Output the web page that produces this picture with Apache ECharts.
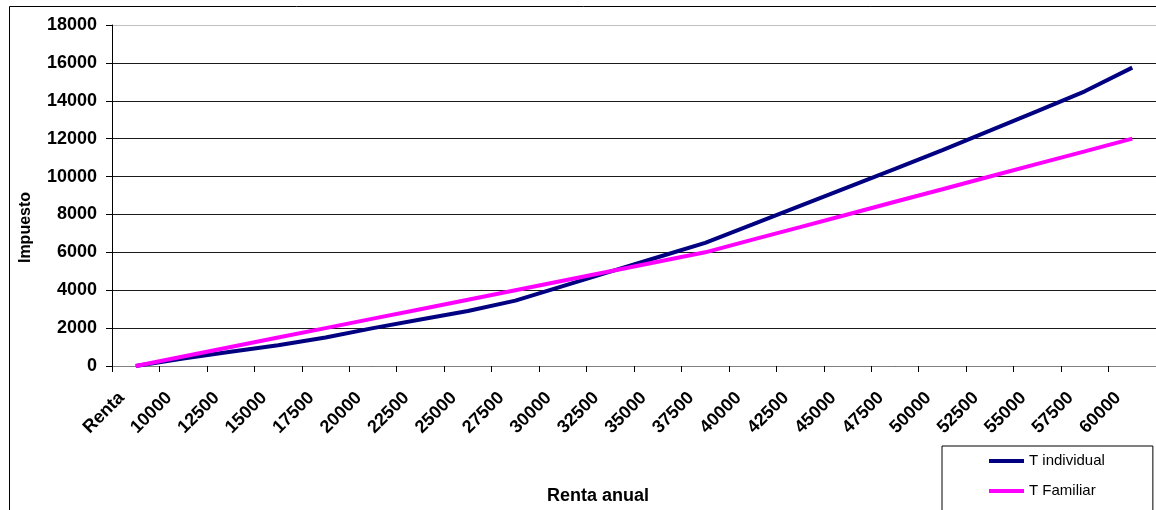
<!DOCTYPE html>
<html>
<head>
<meta charset="utf-8">
<script src="https://cdn.jsdelivr.net/npm/echarts@6/dist/echarts.min.js"></script>
<style>
  html, body { margin: 0; padding: 0; background: #fff; }
  #chart { width: 1156px; height: 510px; }
</style>
</head>
<body>
<div id="chart"></div>
<script>
// Income brackets (first entry is the header row of the source table)
const categories = ['Renta', '10000', '12500', '15000', '17500', '20000', '22500',
  '25000', '27500', '30000', '32500', '35000', '37500', '40000', '42500',
  '45000', '47500', '50000', '52500', '55000', '57500', '60000'];

// Tax due, individual filing
const tIndividual = [0, 400, 750, 1100, 1500, 2000, 2450, 2900, 3450, 4220, 4980,
  5740, 6500, 7470, 8450, 9430, 10400, 11400, 12420, 13450, 14500, 15750];

// Tax due, joint (family) filing
const tFamiliar = [0, 500, 1000, 1500, 2000, 2500, 3000, 3500, 4000, 4500, 5000,
  5500, 6000, 6670, 7330, 8000, 8670, 9330, 10000, 10670, 11330, 12000];

// Value axis ticks
const yMin = 0, yMax = 18000, yStep = 2000;

const FONT = 'Liberation Sans, Arial, sans-serif';

const chart = echarts.init(document.getElementById('chart'), null, { renderer: 'canvas' });

// Split line colours: dark for the inner lines, light grey for the top border line
const splitColors = [];
for (let v = yMin; v <= yMax; v += yStep) {
  splitColors.push(v === yMax ? '#c0c0c0' : '#1a1a1a');
}

chart.setOption({
  animation: false,
  backgroundColor: '#ffffff',
  graphic: [{
    type: 'rect',
    shape: { x: 9.5, y: 6.5, width: 1400, height: 800 },
    style: { fill: 'none', stroke: '#000', lineWidth: 1 },
    silent: true,
    z: -1
  }],
  grid: { left: 112, right: 0, top: 25, bottom: 143, containLabel: false },
  legend: {
    orient: 'vertical',
    left: 942,
    top: 446,
    width: 160,
    height: 60,
    padding: [6, 48, 40, 47],
    borderColor: '#000',
    borderWidth: 1,
    backgroundColor: '#fff',
    icon: 'rect',
    itemWidth: 35,
    itemHeight: 4,
    itemGap: 12,
    textStyle: { fontFamily: FONT, fontSize: 15, color: '#000', lineHeight: 18 },
    data: ['T individual', 'T Familiar']
  },
  xAxis: {
    type: 'category',
    data: categories,
    boundaryGap: true,
    name: 'Renta anual',
    nameLocation: 'middle',
    nameGap: 121,
    nameTextStyle: { fontFamily: FONT, fontSize: 18, fontWeight: 'bold', color: '#000', padding: [0, 72, 0, 0] },
    axisLine: { lineStyle: { color: '#808080', width: 1 } },
    axisTick: { show: true, length: 6, interval: 0, alignWithLabel: false, lineStyle: { color: '#000' } },
    axisLabel: {
      interval: 0,
      rotate: 45,
      margin: 15,
      padding: [0, 20, 0, 0],
      fontFamily: FONT,
      fontSize: 18,
      fontWeight: 'bold',
      color: '#000'
    },
    splitLine: { show: false }
  },
  yAxis: {
    type: 'value',
    min: yMin,
    max: yMax,
    interval: yStep,
    name: 'Impuesto',
    nameLocation: 'middle',
    nameGap: 78,
    nameTextStyle: { fontFamily: FONT, fontSize: 16, fontWeight: 'bold', color: '#000', padding: [0, 64, 0, 0] },
    axisLine: { show: true, lineStyle: { color: '#000', width: 1 } },
    axisTick: { show: true, length: 6, lineStyle: { color: '#000' } },
    axisLabel: {
      margin: 15,
      fontFamily: FONT,
      fontSize: 18,
      fontWeight: 'bold',
      color: '#000',
      formatter: (v) => String(v)
    },
    splitLine: { show: true, lineStyle: { color: splitColors, width: 1 } }
  },
  series: [
    {
      name: 'T individual',
      type: 'line',
      data: tIndividual,
      symbol: 'none',
      lineStyle: { color: '#000080', width: 4 },
      itemStyle: { color: '#000080' },
      z: 3
    },
    {
      name: 'T Familiar',
      type: 'line',
      data: tFamiliar,
      symbol: 'none',
      lineStyle: { color: '#ff00ff', width: 4 },
      itemStyle: { color: '#ff00ff' },
      z: 4
    }
  ]
});
</script>
</body>
</html>
